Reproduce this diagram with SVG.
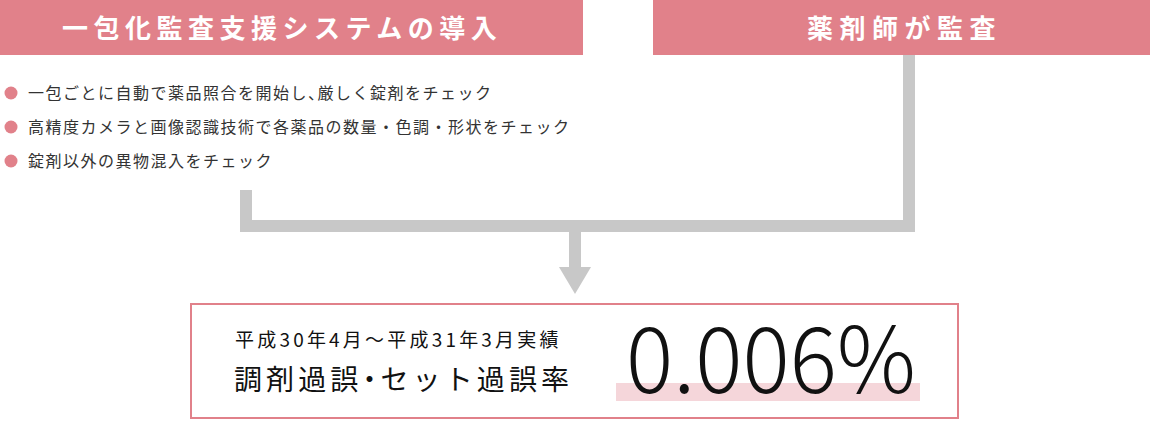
<svg xmlns="http://www.w3.org/2000/svg" width="1150" height="421" viewBox="0 0 1150 421">
<style>
.hdr{fill:#e1818a}
.htxt{fill:#fff;font-family:"Noto Sans CJK JP","Noto Sans",sans-serif;font-weight:700;font-size:26px;letter-spacing:5.5px}
.btxt{fill:#333;font-family:"Noto Sans CJK JP","Noto Sans",sans-serif;font-size:16px;letter-spacing:1.5px}
.dot{fill:#e1818a}
.conn{fill:#c8c8c8}
.ktxt{fill:#111;font-family:"Noto Sans CJK JP","Noto Sans",sans-serif}
.half{font-feature-settings:"halt" 1}
</style>
<rect width="1150" height="421" fill="#fff"/>
<g id="node-intro">
<rect class="hdr" x="0" y="0" width="583" height="55"/>
<text class="htxt" x="62" y="38">一包化監査支援システムの導入</text>
</g>
<g id="node-pharmacist">
<rect class="hdr" x="653" y="0" width="497" height="55"/>
<text class="htxt" x="807" y="38" style="letter-spacing:6.5px">薬剤師が監査</text>
</g>
<g id="node-bullets">
<circle class="dot" cx="11" cy="93" r="6.5"/>
<circle class="dot" cx="11" cy="127" r="6.5"/>
<circle class="dot" cx="11" cy="161" r="6.5"/>
<text class="btxt" x="28" y="99">一包ごとに自動で薬品照合を開始し<tspan class="half">、</tspan>厳しく錠剤をチェック</text>
<text class="btxt" x="28" y="133">高精度カメラと画像認識技術で各薬品の数量・色調・形状をチェック</text>
<text class="btxt" x="28" y="167">錠剤以外の異物混入をチェック</text>
</g>
<g id="connectors">
<rect class="conn" x="240" y="190" width="12" height="42"/>
<rect class="conn" x="903" y="55" width="12" height="177"/>
<rect class="conn" x="240" y="220" width="675" height="12"/>
<rect class="conn" x="569" y="232" width="12" height="36"/>
<polygon class="conn" points="559,267 591,267 575,294"/>
</g>
<g id="node-result">
<rect x="191" y="304" width="767" height="114" fill="#fff" stroke="#e1818a" stroke-width="2"/>
<rect x="616" y="383" width="304" height="18" fill="#f5d6da"/>
<text class="ktxt" x="235" y="347" font-size="19" letter-spacing="3.2">平成30年4月～平成31年3月実績</text>
<text class="ktxt" x="234" y="390" font-size="28" letter-spacing="4.1">調剤過誤<tspan class="half">・</tspan>セット過誤率</text>
<text class="ktxt" x="626" y="393" font-size="91" font-weight="300" textLength="290" lengthAdjust="spacingAndGlyphs">0.006%</text>
</g>
</svg>
